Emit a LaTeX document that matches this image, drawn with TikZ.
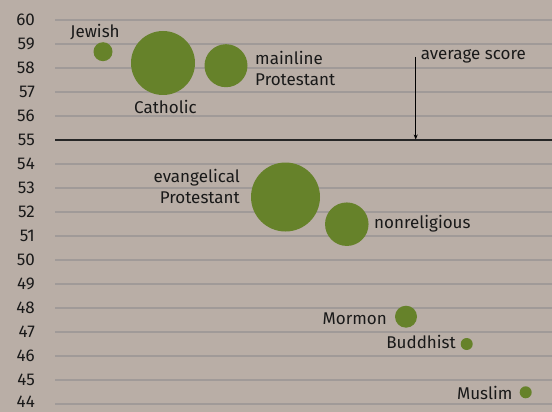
\documentclass[tikz,border=0pt]{standalone}
\usepackage{fontspec}
\setmainfont{Fira Sans}
\usetikzlibrary{arrows.meta}
\definecolor{bgc}{RGB}{185,174,166}
\definecolor{gridc}{RGB}{160,154,152}
\definecolor{bub}{RGB}{102,130,42}
\definecolor{txt}{RGB}{25,25,25}
\tikzset{
  bubble/.style={circle,fill=bub,draw=none,inner sep=0pt,minimum size=#1},
  lbl/.style={font=\fontsize{17}{20.5}\selectfont,text=txt,inner sep=0pt,align=left},
  rlbl/.style={font=\fontsize{17}{20.5}\selectfont,text=txt,inner sep=0pt,align=right},
  ytick/.style={font=\fontsize{17}{20.5}\selectfont,text=txt,inner sep=0pt,anchor=east},
  gridline/.style={draw=gridc,line width=1.4pt},
  avgline/.style={draw=black!85,line width=1.3pt},
  pointer/.style={draw=black,line width=0.8pt,-{Stealth[length=5pt,width=4pt]}}
}
\begin{document}
\begin{tikzpicture}[x=1pt,y=-1pt]
\fill[bgc] (0,0) rectangle (552,412);
\useasboundingbox (0,0) rectangle (552,412);
% grid
\foreach \v in {60,59,58,57,56,54,53,52,51,50,49,48,47,46,45,44}{
  \draw[gridline] (55,{140+(55-\v)*24}) -- (552,{140+(55-\v)*24});
}
\foreach \v in {60,59,...,45}{
  \node[ytick] (t\v) at (35,{140+(55-\v)*24}) {\v};
}
\node[ytick] (t44) at (35,401.5) {44};
\coordinate (l55a) at (55,140);
\coordinate (l55b) at (552,140);
\draw[avgline] (l55a) -- (l55b);
% bubbles
\node[bubble=19pt] (jew) at (103,51.7) {};
\node[bubble=64pt] (cat) at (163,63) {};
\node[bubble=43pt] (main) at (226,65.7) {};
\node[bubble=69pt] (evan) at (285.5,197) {};
\node[bubble=43.5pt] (nonr) at (346.8,224.2) {};
\node[bubble=22pt] (morm) at (406,316.7) {};
\node[bubble=12pt] (budd) at (466.7,344) {};
\node[bubble=12pt] (musl) at (525.7,392.3) {};
% labels
\node[lbl] (ljew) at (95,32) {Jewish};
\node[lbl] (lcat) at (165.5,107) {Catholic};
\node[lbl,anchor=west] (lmain) at (255,68.5) {mainline\\Protestant};
\node[rlbl,anchor=east] (levan) at (240,186.5) {evangelical\\Protestant};
\node[lbl,anchor=west] (lnonr) at (374,224) {nonreligious};
\node[rlbl,anchor=east] (lmorm) at (387,319) {Mormon};
\node[rlbl,anchor=east] (lbudd) at (456,342) {Buddhist};
\node[rlbl,anchor=east] (lmusl) at (512.7,393) {Muslim};
\node[lbl,anchor=west] (lavg) at (420.7,56) {average score};
% pointer
\coordinate (avgtop) at (415.7,57);
\coordinate (avgbot) at (415.7,139.5);
\draw[pointer] (avgtop) -- (avgbot);
\end{tikzpicture}
\end{document}
